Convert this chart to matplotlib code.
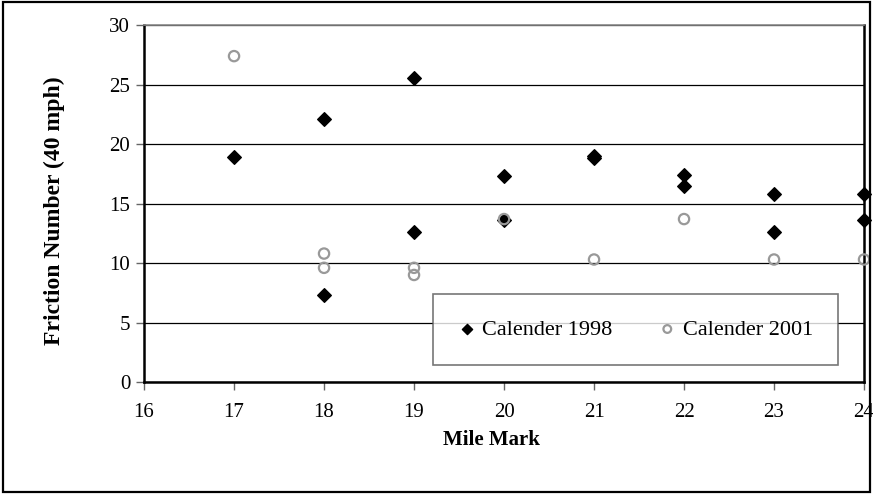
import matplotlib
matplotlib.use('Agg')
import matplotlib.pyplot as plt
from matplotlib.patches import Rectangle

plt.rcParams['font.family'] = ['Liberation Serif', 'DejaVu Serif']

# Calender 1998
x_1998 = [17, 18, 18, 19, 19, 20, 20, 21, 21, 22, 22, 23, 23, 24, 24]
y_1998 = [18.9, 22.1, 7.3, 25.6, 12.6, 17.3, 13.6, 18.8, 19.0, 17.4, 16.5, 15.8, 12.6, 15.8, 13.6]

# Calender 2001
x_2001 = [17, 18, 18, 19, 19, 20, 21, 22, 23, 24]
y_2001 = [27.4, 10.8, 9.6, 9.6, 9.0, 13.7, 10.3, 13.7, 10.3, 10.3]

y_ticks = [0, 5, 10, 15, 20, 25, 30]
x_ticks = [16, 17, 18, 19, 20, 21, 22, 23, 24]

fig = plt.figure(figsize=(8.73, 4.94), dpi=100)
fig.patches.append(Rectangle((0.003, 0.004), 0.994, 0.991, transform=fig.transFigure,
                             fill=False, edgecolor='black', linewidth=1.6))
ax = fig.add_axes([0.165, 0.2267, 0.8247, 0.7223])

ax.scatter(x_1998, y_1998, marker='D', s=48, color='black', label='Calender 1998', zorder=3, clip_on=False)
ax.scatter(x_2001, y_2001, marker='o', s=55, facecolor='none', edgecolor='#999999', linewidth=1.6,
           label='Calender 2001', zorder=4, clip_on=False)

ax.set_xlim(16, 24)
ax.set_ylim(0, 30)
ax.set_xticks(x_ticks)
ax.set_yticks(y_ticks)
ax.yaxis.grid(True, color='black', linewidth=0.9)
ax.set_axisbelow(True)

for side in ['left', 'bottom', 'right']:
    ax.spines[side].set_linewidth(1.8)
    ax.spines[side].set_color('black')
ax.spines['top'].set_color('#888888')
ax.spines['top'].set_linewidth(1.2)

ax.tick_params(axis='both', direction='out', length=6, width=1, labelsize=15, colors='#666666',
               labelcolor='black')
ax.tick_params(axis='x', pad=9)
ax.tick_params(axis='y', pad=4)

ax.set_xlabel('Mile Mark', fontsize=15, fontweight='bold', va='center')
ax.set_ylabel('Friction Number (40 mph)', fontsize=17, fontweight='bold', va='center')
ax.xaxis.set_label_coords(0.483, -0.162)
ax.yaxis.set_label_coords(-0.124, 0.48)

leg = ax.legend(loc='center', bbox_to_anchor=(21.46, 4.41), bbox_transform=ax.transData,
                ncol=2, fontsize=16, frameon=True, fancybox=False,
                handletextpad=0.3, handlelength=0.8, markerscale=0.75, borderaxespad=0, borderpad=1.13,
                columnspacing=2.07)
leg.get_frame().set_edgecolor('#555555')
leg.get_frame().set_linewidth(1.2)
leg.set_zorder(5)

fig.savefig('out.png', dpi=100)
